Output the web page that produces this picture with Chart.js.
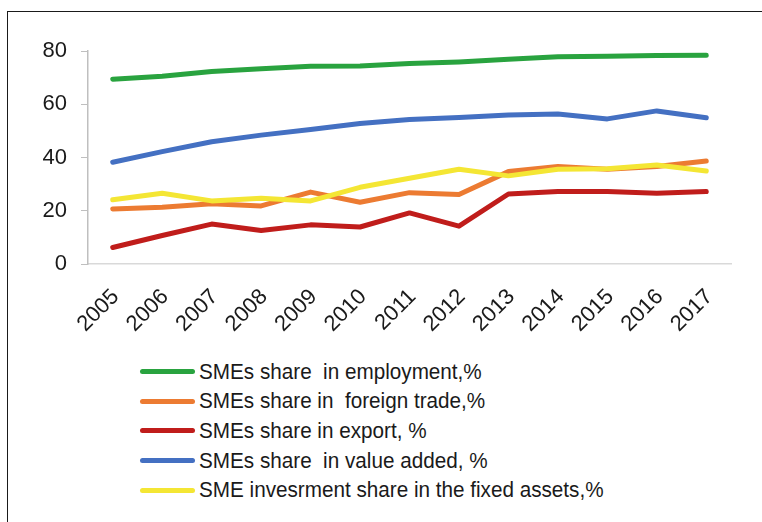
<!DOCTYPE html>
<html>
<head>
<meta charset="utf-8">
<title>SMEs shares 2005-2017</title>
<script src="https://cdn.jsdelivr.net/npm/chart.js@4/dist/chart.umd.min.js"></script>
<style>
    html, body { margin: 0; padding: 0; background: #fff; }
    body { width: 762px; height: 522px; position: relative; overflow: hidden; font-family: "Liberation Sans", Arial, sans-serif; }
    .frame { position: absolute; left: 7px; top: 11px; width: 800px; height: 600px; border-left: 1.5px solid #1a1a1a; border-top: 1.5px solid #1a1a1a; }
    .chart-box { position: absolute; left: 0; top: 0; width: 762px; height: 350px; }
    #legend { position: absolute; left: 140px; top: 357px; }
    .legend-row { height: 29.6px; display: flex; align-items: center; }
    .legend-line { width: 55px; height: 5px; border-radius: 3px; margin-right: 4px; }
    .legend-text { font-size: 22px; color: #1a1a1a; white-space: pre; transform: scaleX(0.94); transform-origin: left center; }
</style>
</head>
<body>
<div class="frame"></div>
<div class="chart-box"><canvas id="smeChart"></canvas></div>
<div id="legend"></div>

<script>
// Data
const years = ['2005', '2006', '2007', '2008', '2009', '2010', '2011', '2012', '2013', '2014', '2015', '2016', '2017'];
const employment = [69.4, 70.5, 72.3, 73.3, 74.3, 74.4, 75.3, 75.9, 76.9, 77.8, 78.0, 78.3, 78.4];
const foreignTrade = [20.7, 21.3, 22.6, 21.8, 27.0, 23.2, 26.8, 26.1, 34.7, 36.6, 35.6, 36.6, 38.7];
const exportShare = [6.2, 10.7, 15.0, 12.6, 14.7, 13.9, 19.2, 14.2, 26.3, 27.2, 27.2, 26.6, 27.2];
const valueAdded = [38.2, 42.2, 45.9, 48.4, 50.5, 52.8, 54.3, 55.0, 56.0, 56.3, 54.5, 57.5, 54.9];
const fixedAssets = [24.1, 26.6, 23.7, 24.7, 23.7, 28.8, 32.2, 35.6, 33.1, 35.6, 35.8, 37.2, 34.9];
const yTicks = [0, 20, 40, 60, 80];

const series = [
    { label: 'SMEs share  in employment,%', data: employment, color: '#29a33f' },
    { label: 'SMEs share in  foreign trade,%', data: foreignTrade, color: '#ec7b32' },
    { label: 'SMEs share in export, %', data: exportShare, color: '#c01d1b' },
    { label: 'SMEs share  in value added, %', data: valueAdded, color: '#4470c2' },
    { label: 'SME invesrment share in the fixed assets,%', data: fixedAssets, color: '#f4e634' }
];

const tickFont = { family: '"Liberation Sans", Arial, sans-serif', size: 22 };

const chart = new Chart(document.getElementById('smeChart'), {
    type: 'line',
    data: {
        labels: years,
        datasets: series.map((s, i) => ({
            label: s.label,
            data: s.data,
            borderColor: s.color,
            backgroundColor: s.color,
            borderWidth: 5,
            borderCapStyle: 'round',
            borderJoinStyle: 'round',
            pointRadius: 0,
            tension: 0,
            // later series sit on top, like the original
            order: series.length - i
        }))
    },
    options: {
        responsive: true,
        maintainAspectRatio: false,
        animation: false,
        layout: { padding: { top: 51, right: 31, left: 0, bottom: 0 } },
        plugins: {
            legend: { display: false },
            tooltip: { enabled: false }
        },
        scales: {
            x: {
                offset: true,
                grid: { display: false, drawTicks: false },
                border: { color: '#d9d9d9', width: 1.5 },
                ticks: {
                    color: '#1a1a1a',
                    font: tickFont,
                    minRotation: 45,
                    maxRotation: 45,
                    padding: 20,
                    labelOffset: 3
                },
                afterFit: (scale) => { scale.height = 86; }
            },
            y: {
                min: 0,
                max: 80,
                afterBuildTicks: (scale) => { scale.ticks = yTicks.map(v => ({ value: v })); },
                grid: { drawOnChartArea: false, color: '#bfbfbf', tickLength: 7 },
                border: { color: '#bfbfbf', width: 1.5 },
                ticks: { color: '#1a1a1a', font: tickFont, padding: 14 },
                afterFit: (scale) => { scale.width = 88; }
            }
        }
    }
});

// vertical legend, built from the chart's datasets
const legendEl = document.getElementById('legend');
chart.data.datasets.forEach(ds => {
    const row = document.createElement('div');
    row.className = 'legend-row';
    row.innerHTML = `<div class="legend-line" style="background:${ds.borderColor}"></div><span class="legend-text"></span>`;
    row.querySelector('.legend-text').textContent = ds.label;
    legendEl.appendChild(row);
});
</script>
</body>
</html>
